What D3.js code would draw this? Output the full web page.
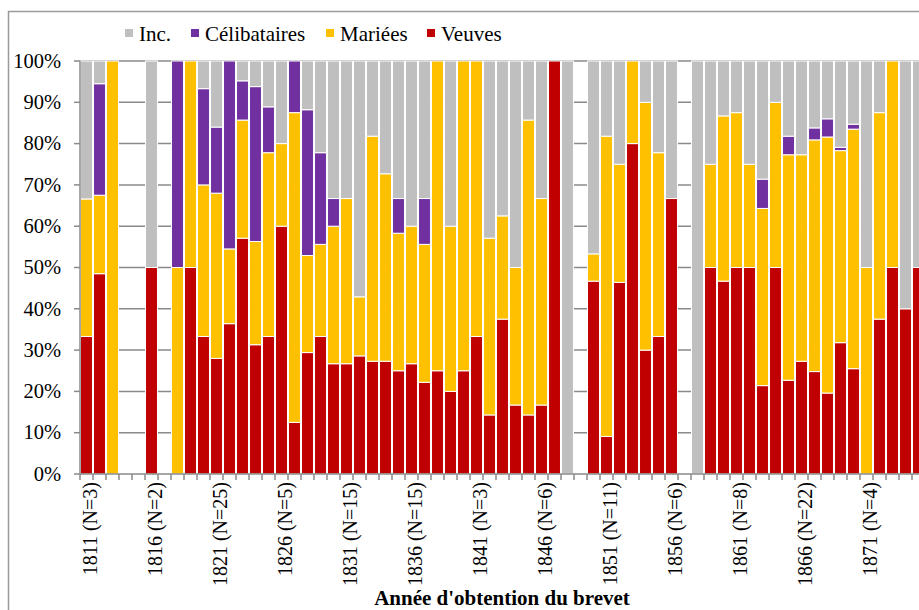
<!DOCTYPE html>
<html>
<head>
<meta charset="utf-8">
<script src="https://cdn.jsdelivr.net/npm/d3@7/dist/d3.min.js"></script>
<style>
  html, body { margin: 0; padding: 0; background: #fff; overflow: hidden; }
  svg { display: block; }
  svg text { font-family: "Liberation Serif", "Times New Roman", Times, "DejaVu Serif", serif; }
</style>
</head>
<body>
<svg id="chart" width="919" height="610"></svg>
<script>
// ---- data (percent of each year's total) ----
const years = d3.range(1811, 1876);

const veuves = [33.3,48.5,0,0,0,50,0,0,50,33.3,28,36.4,57.1,31.3,33.3,60,12.5,29.4,33.3,26.7,
  26.7,28.6,27.3,27.3,25,26.7,22.2,25,20,25,33.3,14.3,37.5,16.7,14.3,16.7,100,0,0,46.7,
  9.1,46.4,80,30,33.3,66.7,0,0,50,46.7,50,50,21.4,50,22.7,27.3,24.8,19.6,31.8,25.5,
  0,37.5,50,40,50];

const mariees = [33.3,19,100,0,0,0,0,50,50,36.7,40,18.1,28.6,25,44.5,20,75,23.5,22.3,33.3,
  40,14.3,54.5,45.4,33.3,33.3,33.4,75,40,75,66.7,42.8,25,33.3,71.4,50,0,0,0,6.6,
  72.7,28.6,20,60,44.5,0,0,0,25,40,37.5,25,42.9,40,54.6,50,56.1,62,46.5,58,
  50,50,50,0,0];

const celibataires = [0,27,0,0,0,0,0,50,0,23.3,16,45.5,9.5,37.5,11.1,0,12.5,35.3,22.2,6.7,
  0,0,0,0,8.4,0,11.1,0,0,0,0,0,0,0,0,0,0,0,0,0,
  0,0,0,0,0,0,0,0,0,0,0,0,7.1,0,4.5,0,2.9,4.4,0.8,1.2,
  0,0,0,0,0];

const inc = [33.4,5.5,0,0,0,50,0,0,0,6.7,16,0,4.8,6.2,11.1,20,0,11.8,22.2,33.3,
  33.3,57.1,18.2,27.3,33.3,40,33.3,0,40,0,0,42.9,37.5,50,14.3,33.3,0,100,0,46.7,
  18.2,25,0,10,22.2,33.3,0,100,25,13.3,12.5,25,28.6,10,18.2,22.7,16.2,14,20.9,15.3,
  50,12.5,0,60,50];

const tickYears  = [1811,1816,1821,1826,1831,1836,1841,1846,1851,1856,1861,1866,1871];
const tickLabels = ["1811 (N=3)","1816 (N=2)","1821 (N=25)","1826 (N=5)","1831 (N=15)","1836 (N=15)",
  "1841 (N=3)","1846 (N=6)","1851 (N=11)","1856 (N=6)","1861 (N=8)","1866 (N=22)","1871 (N=4)"];

const yTicks = [0,10,20,30,40,50,60,70,80,90,100];

const seriesKeys   = ["veuves","mariees","celibataires","inc"];
const seriesNames  = {inc:"Inc.", celibataires:"Célibataires", mariees:"Mariées", veuves:"Veuves"};
const seriesColors = {inc:"#BFBFBF", celibataires:"#7030A0", mariees:"#FFC000", veuves:"#C00000"};
const legendOrder  = ["inc","celibataires","mariees","veuves"];

// ---- table ----
const table = years.map((yr, i) => ({
  year: yr, veuves: veuves[i], mariees: mariees[i], celibataires: celibataires[i], inc: inc[i]
}));

// ---- layout ----
const FONT = "'Liberation Serif', 'Times New Roman', Times, 'DejaVu Serif', serif";
const svg = d3.select("#chart");
const plotLeft = 80, plotTop = 61, plotBottom = 474, plotRight = 925;

const x = d3.scaleBand().domain(years).range([plotLeft, plotRight]).paddingInner(0.08).paddingOuter(0.04);
const y = d3.scaleLinear().domain([0, 100]).range([plotBottom, plotTop]);

const gridColor = "#8a8a8a";

// outer frame
svg.append("rect").attr("x", 8.5).attr("y", 11.5).attr("width", 1000).attr("height", 800)
  .attr("fill", "none").attr("stroke", "#9a9a9a").attr("stroke-width", 1.5);

// gridlines
svg.append("g").selectAll("line").data(yTicks.filter(d => d > 0)).join("line")
  .attr("x1", plotLeft).attr("x2", 919)
  .attr("y1", d => y(d)).attr("y2", d => y(d))
  .attr("stroke", gridColor).attr("stroke-width", 1.5);

// stacked bars
const stacked = d3.stack().keys(seriesKeys)(table);
svg.append("g").selectAll("g").data(stacked).join("g")
  .attr("fill", d => seriesColors[d.key])
  .selectAll("rect").data(d => d.filter(p => p[1] - p[0] > 0)).join("rect")
  .attr("x", d => x(d.data.year))
  .attr("width", x.bandwidth())
  .attr("y", d => y(d[1]))
  .attr("height", d => y(d[0]) - y(d[1]))
  .attr("stroke", "#ffffff").attr("stroke-width", 1);

// y axis
const yAxis = svg.append("g");
yAxis.append("line").attr("x1", plotLeft).attr("x2", plotLeft).attr("y1", plotTop).attr("y2", plotBottom)
  .attr("stroke", gridColor).attr("stroke-width", 1.5);
yAxis.selectAll("line.tick").data(yTicks).join("line").attr("class", "tick")
  .attr("x1", plotLeft - 6).attr("x2", plotLeft)
  .attr("y1", d => y(d)).attr("y2", d => y(d))
  .attr("stroke", gridColor).attr("stroke-width", 1.5);
yAxis.selectAll("text").data(yTicks).join("text")
  .attr("x", 61).attr("y", d => y(d)).attr("dy", "0.33em")
  .attr("text-anchor", "end").attr("font-size", 20.5).attr("font-family", FONT).attr("fill", "#000")
  .text(d => d + "%");

// x axis
const xAxis = svg.append("g");
xAxis.append("line").attr("x1", plotLeft).attr("x2", 919).attr("y1", plotBottom).attr("y2", plotBottom)
  .attr("stroke", gridColor).attr("stroke-width", 1.5);
const step = x.step();
const boundaries = years.map(yr => x(yr) - (step - x.bandwidth()) / 2);
xAxis.selectAll("line.tick").data(boundaries).join("line").attr("class", "tick")
  .attr("x1", d => d).attr("x2", d => d)
  .attr("y1", plotBottom).attr("y2", plotBottom + 6)
  .attr("stroke", gridColor).attr("stroke-width", 1.5);
xAxis.selectAll("text").data(tickYears).join("text")
  .attr("transform", (d) => `translate(${x(d) + x.bandwidth() / 2 + 3},482) rotate(-90)`)
  .attr("dy", "0.35em")
  .attr("text-anchor", "end").attr("font-size", 20).attr("font-family", FONT).attr("fill", "#000")
  .text((d, i) => tickLabels[i]);

// x title
svg.append("text").attr("x", 502).attr("y", 605).attr("text-anchor", "middle")
  .attr("font-size", 21).attr("font-weight", "bold").attr("font-family", FONT).attr("fill", "#000")
  .text("Année d'obtention du brevet");

// legend
const legendX = {inc: 125, celibataires: 191, mariees: 326, veuves: 427};
const lg = svg.append("g");
legendOrder.forEach(k => {
  lg.append("rect").attr("x", legendX[k]).attr("y", 29).attr("width", 8).attr("height", 8)
    .attr("fill", seriesColors[k]);
  lg.append("text").attr("x", legendX[k] + 14).attr("y", 40.5).attr("font-size", 21)
    .attr("font-family", FONT).attr("fill", "#000").text(seriesNames[k]);
});
</script>
</body>
</html>
